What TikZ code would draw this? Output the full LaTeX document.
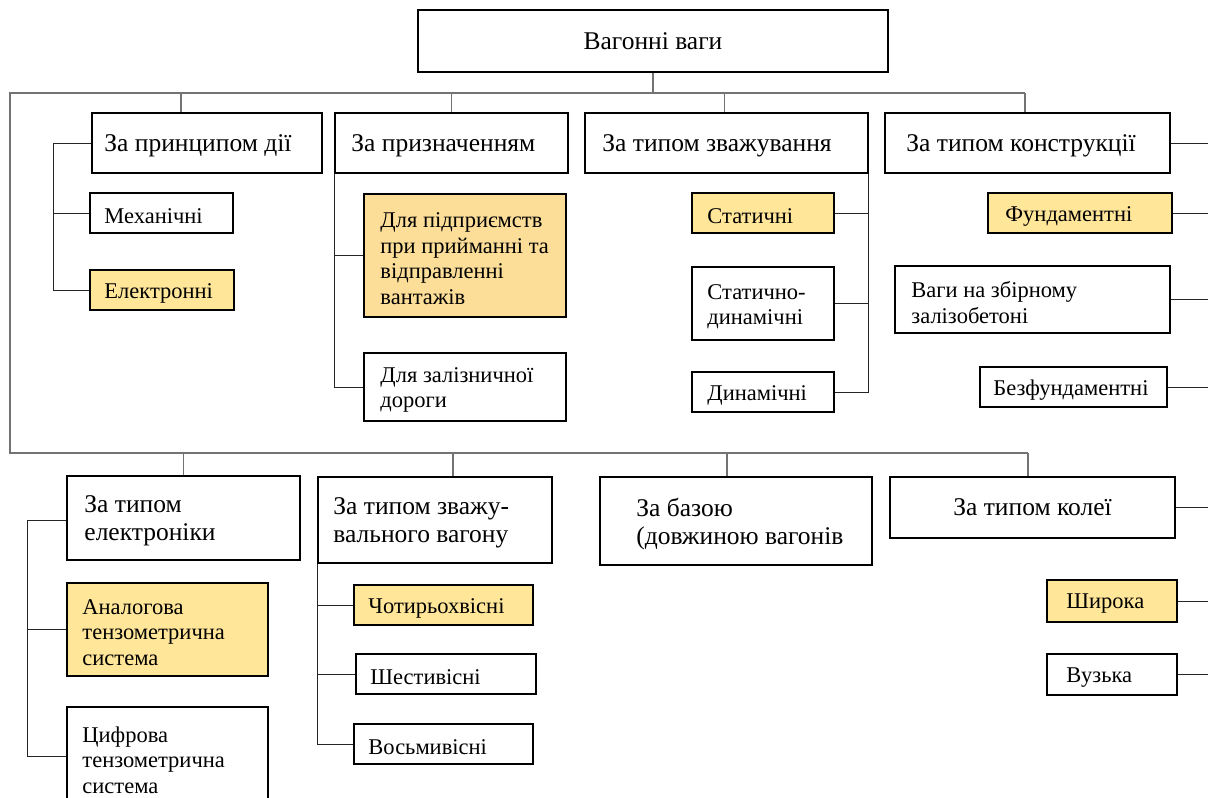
\documentclass[tikz,border=0pt]{standalone}
\usepackage{fontspec}
\setmainfont{Liberation Serif}
\definecolor{ylw}{HTML}{FFE699}
\definecolor{ylwb}{HTML}{FCDE98}
% #1 name, #2 centre, #3 width, #4 height, #5 left padding, #6 box options, #7 font style, #8 text
\newcommand{\mybox}[8]{%
  \node[boxshape, minimum width=#3, minimum height=#4, #6] (#1) at #2 {};
  \node[#7, anchor=west] (#1t) at ([xshift=#5pt, yshift=-3pt]#1.west) {#8};
}
\begin{document}
\begin{tikzpicture}[x=1pt,y=-1pt,
  boxshape/.style={draw=black, line width=1.5pt, inner sep=0pt},
  small/.style={inner sep=0pt, align=left, font=\fontsize{22.5}{25.5}\selectfont},
  big/.style={inner sep=0pt, align=left, font=\fontsize{25.5}{28}\selectfont},
  hl/.style={fill=ylw},
  bus/.style={draw=black!55, line width=1.3pt},
  con/.style={draw=black!85, line width=1pt}]
\useasboundingbox (0,0) rectangle (1208,798);
\clip (0,0) rectangle (1208,798);
\fill[white] (0,0) rectangle (1208,798);

% root
\node[boxshape, big, align=center, minimum width=470, minimum height=62] (top) at (653,41) {Вагонні ваги};

% level 1, upper row
\mybox{A1}{(207,143)}{230}{60}{13}{}{big}{За принципом дії}
\mybox{A2}{(451.5,143)}{233}{60}{17}{}{big}{За призначенням}
\mybox{A3}{(726.5,143)}{283}{60}{18}{}{big}{За типом зважування}
\mybox{A4}{(1027.5,143)}{285}{60}{22}{}{big}{За типом конструкції}

% level 1, lower row
\mybox{B1}{(183.5,518)}{233}{84}{18}{}{big}{За типом\\електроніки}
\mybox{B2}{(435,520)}{234}{86}{16}{}{big}{За типом зважу-\\вального вагону}
\mybox{B3}{(736,521)}{272}{88}{37}{}{big}{За базою\\(довжиною вагонів}
\node[boxshape, big, align=center, minimum width=285, minimum height=61] (B4) at (1032.5,507.5) {За типом колеї};

% children of A1
\mybox{m1}{(161.5,213)}{143}{40}{15}{}{small}{Механічні}
\mybox{m2}{(162,290)}{144}{40}{15}{hl}{small}{Електронні}
% children of A2
\mybox{p1}{(465,255.5)}{202}{123}{17}{fill=ylwb}{small}{Для підприємств\\при прийманні та\\відправленні\\вантажів}
\mybox{p2}{(465,387)}{202}{68}{17}{}{small}{Для залізничної\\дороги}
% children of A3
\mybox{s1}{(763,213)}{142}{40}{16}{hl}{small}{Статичні}
\mybox{s2}{(763,303.5)}{142}{73}{16}{}{small}{Статично-\\динамічні}
\mybox{s3}{(763,392)}{142}{40}{16}{}{small}{Динамічні}
% children of A4
\mybox{k1}{(1080,213)}{184}{40}{18}{hl}{small}{Фундаментні}
\mybox{k2}{(1032.5,299.5)}{275}{67}{17}{}{small}{Ваги на збірному\\залізобетоні}
\mybox{k3}{(1073.5,387)}{187}{40}{14}{}{small}{Безфундаментні}
% children of B1
\mybox{e1}{(167.5,629.5)}{201}{93}{16}{hl}{small}{Аналогова\\тензометрична\\система}
\mybox{e2}{(167.5,757)}{201}{100}{16}{}{small}{Цифрова\\тензометрична\\система}
% children of B2
\mybox{v1}{(443.5,605)}{179}{40}{15}{hl}{small}{Чотирьохвісні}
\mybox{v2}{(446,674)}{180}{40}{15}{}{small}{Шестивісні}
\mybox{v3}{(443.5,744)}{179}{40}{15}{}{small}{Восьмивісні}
% children of B4
\mybox{c1}{(1112,601)}{130}{42}{20}{hl}{small}{Широка}
\mybox{c2}{(1112,674.5)}{130}{41}{20}{}{small}{Вузька}

% buses
\coordinate (busL) at (10,93);
\coordinate (busR) at (1025,93);
\coordinate (busBL) at (10,453);
\coordinate (busBR) at (1028,453);
\coordinate (R) at (1215,0);
\draw[bus] (top.south) -- (top.south |- busL);
\draw[bus] (busR) -- (busL) -- (busBL) -- (busBR);
\draw[bus] ([xshift=-26pt]A1.north) -- ([xshift=-26pt]A1.north |- busL);
\draw[bus] (A2.north) -- (A2.north |- busL);
\draw[bus] ([xshift=-2pt]A3.north) -- ([xshift=-2pt]A3.north |- busL);
\draw[bus] ([xshift=-2.5pt]A4.north) -- ([xshift=-2.5pt]A4.north |- busL);
\draw[bus] (B1.north) -- (B1.north |- busBL);
\draw[bus] ([xshift=18pt]B2.north) -- ([xshift=18pt]B2.north |- busBL);
\draw[bus] ([xshift=-9pt]B3.north) -- ([xshift=-9pt]B3.north |- busBL);
\draw[bus] ([xshift=-4.5pt]B4.north) -- ([xshift=-4.5pt]B4.north |- busBL);

% A1 tree
\coordinate (t1) at (53,143);
\draw[con] (A1.west) -- (t1) |- (m2.west);
\draw[con] (m1.west) -- (m1.west -| t1);
% A2 tree
\draw[con] (A2.south west) |- (p2.west);
\draw[con] (p1.west) -- (p1.west -| A2.south west);
% A3 tree
\draw[con] (A3.south east) |- (s3.east);
\draw[con] (s1.east) -- (s1.east -| A3.south east);
\draw[con] (s2.east) -- (s2.east -| A3.south east);
% A4 stubs
\draw[con] (A4.east) -- (A4.east -| R);
\draw[con] (k1.east) -- (k1.east -| R);
\draw[con] (k2.east) -- (k2.east -| R);
\draw[con] (k3.east) -- (k3.east -| R);
% B1 tree
\coordinate (t2) at (27,520);
\coordinate (t3) at (27,756);
\draw[con] (B1.west |- t2) -- (t2) -- (t3) -- (e2.west |- t3);
\draw[con] (e1.west) -- (e1.west -| t2);
% B2 tree
\draw[con] (B2.south west) |- (v3.west);
\draw[con] (v1.west) -- (v1.west -| B2.south west);
\draw[con] (v2.west) -- (v2.west -| B2.south west);
% B4 stubs
\draw[con] (B4.east) -- (B4.east -| R);
\draw[con] (c1.east) -- (c1.east -| R);
\draw[con] (c2.east) -- (c2.east -| R);
\end{tikzpicture}
\end{document}
